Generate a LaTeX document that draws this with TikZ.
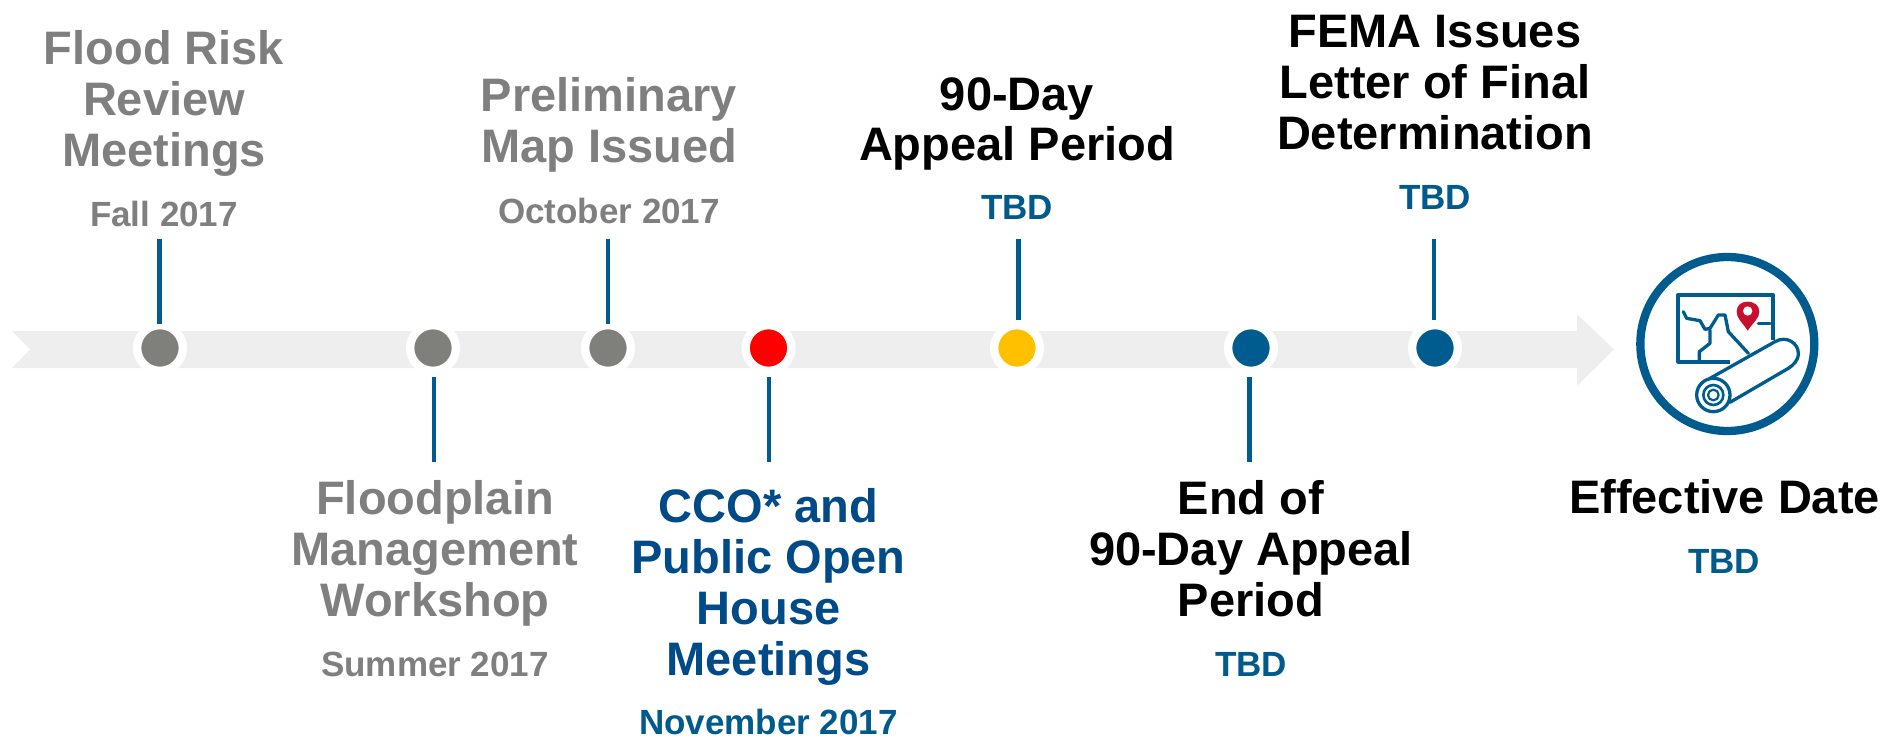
\documentclass[tikz,border=0pt]{standalone}
\usepackage{fontspec}
\setmainfont{Liberation Sans}
\definecolor{bandgrey}{HTML}{EEEEEE}
\definecolor{dotgrey}{HTML}{7F807C}
\definecolor{textgrey}{HTML}{7F7F7F}
\definecolor{linkblue}{HTML}{005C8F}
\definecolor{headblue}{HTML}{004B87}
\definecolor{dateblue}{HTML}{005A8B}
\definecolor{dotyellow}{HTML}{FFC000}
\definecolor{pinred}{HTML}{C8102E}
\tikzset{
  x=1pt,y=-1pt,
  head/.style={anchor=base,align=center,inner sep=0pt,font=\fontsize{47}{51}\selectfont\bfseries},
  date/.style={anchor=base,inner sep=0pt,font=\fontsize{35}{40}\selectfont\bfseries},
  dot/.style={circle,inner sep=0pt,minimum size=45.7pt,draw=white,line width=8.3pt},
  link/.style={draw=linkblue,line width=4.5pt},
  ico/.style={draw=linkblue,line width=3.3pt,line join=round,line cap=round},
}
\begin{document}
\begin{tikzpicture}
\useasboundingbox (0,0) rectangle (1900,738);
% band arrow
\fill[bandgrey] (12,331) -- (1577,331) -- (1577,314) -- (1614,349.5) -- (1577,386) -- (1577,368) -- (12,368) -- (30,349.5) -- cycle;
% dots
\node[dot,fill=dotgrey] (d1) at (160,348) {};
\node[dot,fill=dotgrey] (d2) at (433,348) {};
\node[dot,fill=dotgrey] (d3) at (608,348) {};
\node[dot,fill=red] (d4) at (768.5,348) {};
\node[dot,fill=dotyellow] (d5) at (1017,348) {};
\node[dot,fill=linkblue] (d6) at (1251,348) {};
\node[dot,fill=linkblue] (d7) at (1435,348) {};
% connector free ends
\coordinate (e1) at (159.5,239);
\coordinate (e2) at (434,462);
\coordinate (e3) at (608,239);
\coordinate (e4) at (769,462);
\coordinate (e5) at (1018.5,239);
\coordinate (e6) at (1249.5,462);
\coordinate (e7) at (1434,239);
\draw[link,shorten >=-3pt] (e1) -- (e1 |- d1.north);
\draw[link,shorten >=2.4pt] (e2) -- (e2 |- d2.south);
\draw[link,shorten >=-3pt] (e3) -- (e3 |- d3.north);
\draw[link,shorten >=2.4pt] (e4) -- (e4 |- d4.south);
\draw[link,shorten >=1pt] (e5) -- (e5 |- d5.north);
\draw[link,shorten >=2.4pt] (e6) -- (e6 |- d6.south);
\draw[link,shorten >=1pt] (e7) -- (e7 |- d7.north);
% labels
\node[head,text=textgrey] (h1) at (164,167) {Flood Risk\\Review\\Meetings};
\node[date,text=textgrey] (s1) at (164,226) {Fall 2017};
\node[head,text=textgrey] (h3) at (609,163) {Preliminary\\Map Issued};
\node[date,text=textgrey] (s3) at (609,223) {October 2017};
\node[head,text=black] (h5) at (1017,161) {90-Day\\Appeal Period};
\node[date,text=dateblue] (s5) at (1017,219.5) {TBD};
\node[head,text=black] (h7) at (1435,150) {FEMA Issues\\Letter of Final\\Determination};
\node[date,text=dateblue] (s7) at (1435,209) {TBD};
\node[head,text=textgrey] (h2) at (435,616) {Floodplain\\Management\\Workshop};
\node[date,text=textgrey] (s2) at (435,676) {Summer 2017};
\node[head,text=headblue] (h4) at (768.5,675) {CCO* and\\Public Open\\House\\Meetings};
\node[date,text=dateblue] (s4) at (768.5,734) {November 2017};
\node[head,text=black] (h6) at (1251,616) {End of\\90-Day Appeal\\Period};
\node[date,text=dateblue] (s6) at (1251,676) {TBD};
\node[head,text=black] (h8) at (1724.5,513) {Effective Date};
\node[date,text=dateblue] (s8) at (1724,573.5) {TBD};
% icon (coordinates in thirds of a pixel)
\begin{scope}[shift={(1500,240)},x=0.33333pt,y=-0.33333pt]
  \draw[draw=linkblue,line width=8.3pt] (682,312) circle[radius=261];
  \draw[ico,line width=4.2pt,line cap=butt] (690,365) -- (535,365) -- (535,165) -- (818,165) -- (818,300);
  \draw[ico] (550,215) -- (560,235) -- (600,242) -- (615,268) -- (630,265) -- (655,225) -- (675,225) -- (685,275) -- (745,340);
  \draw[ico] (630,270) -- (630,310) -- (598,335) -- (598,360);
  \draw[ico] (775,250) -- (810,250);
  \fill[pinred] (743,272) .. controls (725,245) and (710,235) .. (710,215) .. controls (710,195) and (725,185) .. (743,185) .. controls (761,185) and (778,195) .. (778,215) .. controls (778,235) and (761,245) .. (743,272) -- cycle;
  \fill[white] (743,213) circle[radius=14];
  \filldraw[ico,fill=white] (630,415) -- (825,305) .. controls (860,285) and (895,310) .. (895,340) .. controls (895,362) and (880,375) .. (865,385) -- (690,487) -- cycle;
  \filldraw[ico,fill=white] (640,465) circle[radius=50];
  \draw[ico,line width=2.6pt] (640,465) circle[radius=30];
  \draw[ico,line width=2.2pt] (640,465) circle[radius=16];
\end{scope}
\end{tikzpicture}
\end{document}
